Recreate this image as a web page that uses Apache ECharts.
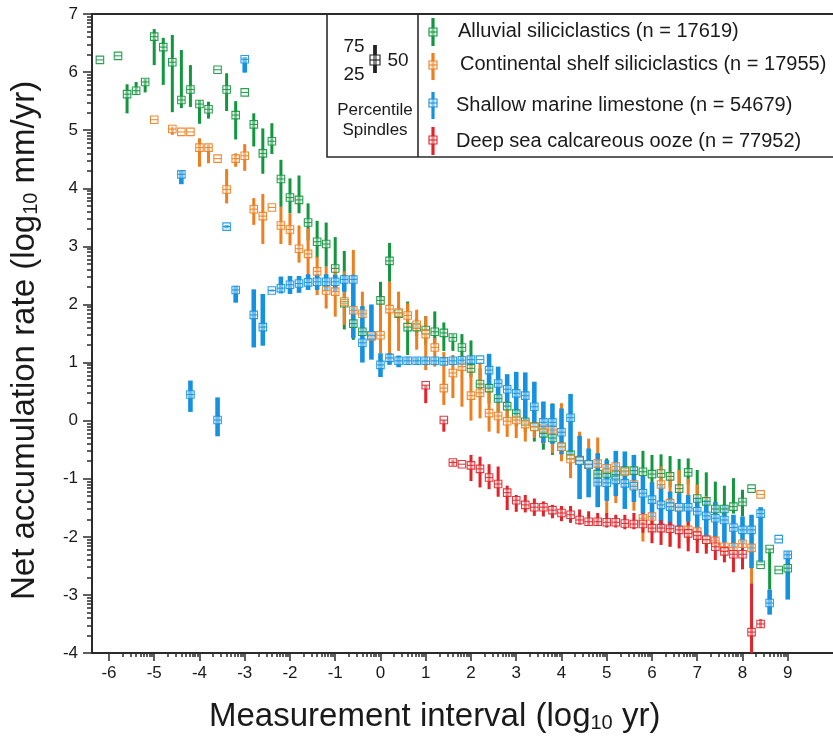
<!DOCTYPE html>
<html>
<head>
<meta charset="utf-8">
<script src="https://cdn.jsdelivr.net/npm/echarts@6/dist/echarts.min.js"></script>
<style>
html,body{margin:0;padding:0;background:#fff;}
#chart{width:833px;height:740px;}
</style>
</head>
<body>
<div id="chart"></div>
<script>
// ---- data: [log10 interval, median, 25th pct, 75th pct] (null = no spindle) ----
const alluvial = [
[-6.2,6.21,null,null],[-5.8,6.28,null,null],[-5.6,5.62,5.29,5.79],[-5.4,5.68,5.61,5.83],[-5.2,5.83,5.65,5.88],
[-5.0,6.61,6.12,6.74],[-4.8,6.43,5.78,6.59],[-4.6,6.17,5.31,6.64],[-4.4,5.52,5.38,6.38],[-4.2,5.70,5.40,6.12],
[-4.0,5.45,5.11,5.52],[-3.8,5.36,5.20,5.49],[-3.6,6.04,null,null],[-3.4,5.70,5.33,5.98],[-3.2,5.26,4.84,5.50],
[-3.0,5.65,null,null],[-2.8,5.10,4.72,5.29],[-2.6,4.60,4.25,5.03],[-2.4,4.81,4.59,5.12],[-2.2,4.16,3.68,4.49],
[-2.0,3.84,3.57,4.17],[-1.8,3.80,3.57,4.22],[-1.6,3.41,3.10,3.74],[-1.4,3.08,2.80,3.44],[-1.2,3.04,2.65,3.41],
[-1.0,2.62,2.40,3.16],[-0.8,2.02,1.57,2.92],[-0.6,1.67,1.39,1.80],[-0.4,1.53,1.30,1.70],[0.0,2.07,1.95,2.39],
[0.2,2.75,2.39,3.06],[0.4,1.84,1.70,2.00],[0.6,1.61,1.13,2.05],[0.8,1.61,1.45,1.75],[1.0,1.56,1.30,1.80],
[1.2,1.53,1.30,1.88],[1.4,1.51,1.20,1.69],[1.6,1.43,1.20,1.49],[1.8,1.26,1.05,1.49],[2.0,0.90,0.75,1.38],
[2.2,0.63,0.40,0.90],[2.4,0.56,0.30,0.80],[2.6,0.38,0.15,0.60],[2.8,0.25,0.00,0.45],[3.0,0.12,-0.10,0.35],
[3.2,-0.02,-0.20,0.20],[3.4,-0.10,-0.36,0.10],[3.6,-0.22,-0.50,0.00],[3.8,-0.30,-0.59,-0.10],[4.0,-0.45,-0.65,-0.25],
[4.2,-0.59,-0.80,-0.40],[4.4,-0.68,-0.95,-0.50],[4.6,-0.76,-0.95,-0.55],[4.8,-0.92,-1.10,-0.70],[5.0,-0.91,-1.10,-0.65],
[5.2,-0.93,-1.10,-0.70],[5.4,-0.86,-1.05,-0.60],[5.6,-0.86,-1.05,-0.62],[5.8,-0.88,-1.05,-0.52],[6.0,-0.92,-1.10,-0.59],
[6.2,-0.91,-1.10,-0.58],[6.4,-0.96,-1.15,-0.61],[6.6,-1.17,-1.30,-0.66],[6.8,-0.89,-1.10,-0.65],[7.0,-1.34,-1.45,-0.85],
[7.2,-1.39,-1.50,-0.89],[7.4,-1.52,-1.60,-1.05],[7.6,-1.52,-1.60,-1.12],[7.8,-1.48,-1.60,-0.99],[8.0,-1.40,-1.65,-1.19],
[8.2,-1.17,null,null],[8.4,-2.48,null,null],[8.6,-2.21,-2.91,-2.21],[8.8,-2.57,null,null],[9.0,-2.54,null,null]
];
const shelf = [
[-5.0,5.18,null,null],[-4.6,5.02,4.92,5.06],[-4.4,4.97,null,null],[-4.2,4.97,null,null],[-4.0,4.70,4.37,4.86],
[-3.8,4.70,4.43,4.75],[-3.6,4.51,null,null],[-3.4,3.98,3.74,4.33],[-3.2,4.51,4.37,4.60],[-3.0,4.56,4.30,4.76],
[-2.8,3.64,3.37,3.83],[-2.6,3.52,3.04,3.90],[-2.4,3.67,null,null],[-2.2,3.36,3.04,3.68],[-2.0,3.29,3.02,3.57],
[-1.8,2.96,2.72,3.36],[-1.6,2.87,2.34,3.31],[-1.4,2.57,2.16,2.82],[-1.2,2.24,1.93,2.65],[-1.0,2.22,1.79,2.61],
[-0.8,2.05,1.65,2.57],[-0.6,1.90,1.55,2.94],[-0.4,1.84,1.40,2.22],[-0.2,1.45,1.10,1.90],[0.0,1.47,1.16,2.02],
[0.2,1.92,1.10,2.39],[0.4,1.86,1.20,2.22],[0.6,1.81,1.62,2.02],[0.8,1.65,1.22,1.91],[1.0,1.49,0.87,1.80],
[1.2,1.26,0.93,1.42],[1.4,0.56,0.27,1.18],[1.6,0.82,0.39,1.13],[1.8,0.93,0.24,1.10],[2.0,0.43,0.00,0.95],
[2.2,0.48,0.04,1.00],[2.4,0.13,-0.19,0.54],[2.6,0.08,-0.22,0.30],[2.8,-0.01,-0.28,0.20],[3.0,0.01,-0.30,0.10],
[3.2,-0.06,-0.36,0.00],[3.4,-0.11,-0.30,0.05],[3.6,-0.13,-0.40,0.10],[3.8,-0.16,-0.56,0.30],[4.0,-0.45,-0.70,0.30],
[4.2,-0.66,-0.99,-0.59],[4.4,-0.69,-1.00,-0.19],[4.6,-0.76,-1.00,-0.31],[4.8,-0.74,-0.85,-0.29],[5.0,-0.82,-1.59,-0.70],
[5.2,-0.79,-1.42,-0.62],[5.4,-0.88,-1.10,-0.70],[5.6,-1.10,-1.55,-0.75],[5.8,-1.68,-2.08,-1.10],[6.0,-1.65,-1.90,-1.20],
[6.2,-1.10,-1.40,-0.79],[6.4,-1.42,-2.17,-0.88],[6.6,-1.49,-1.90,-0.85],[6.8,-1.88,-2.10,-1.00],[7.0,-1.91,-2.10,-1.10],
[7.2,-2.05,-2.20,-1.30],[7.4,-2.07,-2.20,-1.60],[7.6,-2.17,-2.30,-1.70],[7.8,-2.18,-2.30,-1.90],[8.0,-2.12,-2.30,-1.90],
[8.2,-2.19,-2.80,-1.70],[8.4,-1.27,null,null]
];
const limestone = [
[-4.4,4.24,4.07,4.30],[-4.2,0.45,0.15,0.69],[-3.6,0.01,-0.27,0.40],[-3.4,3.34,3.31,3.37],[-3.2,2.25,2.03,2.32],
[-3.0,6.22,5.99,6.26],[-2.8,1.82,1.26,2.26],[-2.6,1.61,1.29,2.18],[-2.4,2.24,2.22,2.26],[-2.2,2.28,2.19,2.48],
[-2.0,2.34,2.18,2.49],[-1.8,2.36,2.20,2.49],[-1.6,2.38,2.25,2.52],[-1.4,2.39,2.25,2.52],[-1.2,2.39,2.25,2.52],
[-1.0,2.39,2.22,2.51],[-0.8,2.43,2.22,2.51],[-0.6,2.43,1.42,2.51],[-0.4,1.34,1.00,1.97],[-0.2,1.47,1.05,2.00],
[0.0,0.96,0.75,1.16],[0.2,1.08,0.96,1.16],[0.4,1.03,0.92,1.12],[0.6,1.03,0.96,1.10],[0.8,1.03,0.96,1.09],
[1.0,1.03,0.96,1.09],[1.2,1.03,0.96,1.09],[1.4,1.02,0.96,1.09],[1.6,1.03,0.96,1.09],[1.8,1.04,0.96,1.09],
[2.0,1.05,0.98,1.10],[2.2,1.05,null,null],[2.4,0.87,0.56,1.15],[2.6,0.64,0.32,0.93],[2.8,0.54,0.21,0.80],
[3.0,0.47,0.10,0.84],[3.2,0.43,0.00,0.83],[3.4,0.24,-0.12,0.67],[3.6,-0.03,-0.39,0.33],[3.8,-0.03,-0.40,0.29],
[4.0,-0.20,-0.58,0.21],[4.2,0.05,-0.59,0.46],[4.4,-0.69,-1.35,-0.26],[4.6,-0.75,-1.32,-0.48],[4.8,-1.06,-1.49,-0.56],
[5.0,-1.07,-1.38,-0.68],[5.2,-1.02,-1.30,-0.52],[5.4,-1.08,-1.52,-0.53],[5.6,-1.13,-1.40,-0.59],[5.8,-1.25,-1.60,-0.95],
[6.0,-1.36,-1.70,-1.06],[6.2,-1.45,-1.85,-1.10],[6.4,-1.48,-1.85,-1.22],[6.6,-1.49,-1.82,-1.25],[6.8,-1.49,-1.74,-1.28],
[7.0,-1.56,-1.85,-1.31],[7.2,-1.64,-2.00,-1.36],[7.4,-1.68,-2.05,-1.40],[7.6,-1.71,-2.10,-1.45],[7.8,-1.84,-2.20,-1.62],
[8.0,-1.88,-2.11,-1.65],[8.2,-1.88,-2.54,-1.62],[8.4,-1.60,-2.45,-1.49],[8.6,-3.14,-3.34,-2.91],[8.8,-2.04,null,null],
[9.0,-2.31,-3.08,-2.25]
];
const ooze = [
[1.0,0.61,0.30,0.61],[1.4,0.01,-0.19,0.01],[1.6,-0.72,-0.78,-0.68],[1.8,-0.75,null,null],[2.0,-0.77,-1.04,-0.59],
[2.2,-0.83,-1.15,-0.62],[2.4,-0.98,-1.18,-0.75],[2.6,-1.09,-1.31,-0.79],[2.8,-1.24,-1.54,-1.12],[3.0,-1.37,-1.57,-1.28],
[3.2,-1.45,-1.58,-1.28],[3.4,-1.49,-1.64,-1.34],[3.6,-1.49,-1.65,-1.39],[3.8,-1.54,-1.68,-1.45],[4.0,-1.59,-1.73,-1.47],
[4.2,-1.62,-1.76,-1.47],[4.4,-1.71,-1.79,-1.53],[4.6,-1.74,-1.81,-1.56],[4.8,-1.74,-1.81,-1.59],[5.0,-1.75,-1.84,-1.59],
[5.2,-1.75,-1.84,-1.62],[5.4,-1.77,-1.87,-1.62],[5.6,-1.78,-1.87,-1.59],[5.8,-1.78,-1.93,-1.59],[6.0,-1.85,-2.11,-1.68],
[6.2,-1.85,-2.14,-1.71],[6.4,-1.86,-2.17,-1.74],[6.6,-1.88,-2.20,-1.82],[6.8,-1.94,-2.25,-1.74],[7.0,-1.98,-2.28,-1.85],
[7.2,-2.05,-2.29,-2.00],[7.4,-2.17,-2.40,-2.00],[7.6,-2.25,-2.44,-2.11],[7.8,-2.30,-2.61,-2.20],[8.0,-2.30,-2.56,-2.11],
[8.2,-3.64,-4.00,-2.80],[8.4,-3.50,-3.57,-3.42]
];
const seriesNames = ['Alluvial siliciclastics (n = 17619)','Continental shelf siliciclastics (n = 17955)',
  'Shallow marine limestone (n = 54679)','Deep sea calcareous ooze (n = 77952)'];
const seriesColors = ['#12973e','#ef7e1e','#1592df','#e2232a'];
const xTicks = [-6,-5,-4,-3,-2,-1,0,1,2,3,4,5,6,7,8,9];
const yTicks = [-4,-3,-2,-1,0,1,2,3,4,5,6,7];

// log-decade minor tick positions
function minorTicks(from, to, lo, hi){
  const out=[];
  for(let m=from;m<=to;m++) for(let k=2;k<=9;k++){const v=m+Math.log10(k); if(v>lo&&v<hi) out.push(v);}
  return out;
}
const X_MIN=-6.375, X_MAX=10, Y_MIN=-4, Y_MAX=7;
const xMinor = minorTicks(-6,8,X_MIN,X_MAX);
const yMinor = minorTicks(-4,6,Y_MIN,Y_MAX);

const FONT='"Liberation Sans", Arial, sans-serif';
const AX='#2b2b2b';

function prep(rows){return rows.map(r=>[r[0],r[1],r[2]==null?r[1]:r[2],r[3]==null?r[1]:r[3]]);}
const allData=[alluvial,shelf,limestone,ooze].map(prep);
const barWidths=[3,3,4.6,3];

function spindleSeries(i){
  return {type:'custom', name:seriesNames[i], xAxisIndex:0, yAxisIndex:0, data:allData[i], z:2,
    renderItem:function(params,api){
      const lo=api.value(2), hi=api.value(3);
      if(!(hi-lo>1e-6)) return null;
      const x=api.value(0);
      const a=api.coord([x,lo]), b=api.coord([x,hi]);
      return {type:'line', shape:{x1:a[0],y1:a[1],x2:b[0],y2:b[1]},
        style:{stroke:seriesColors[i], lineWidth:barWidths[i], lineCap:'butt'}};
    }};
}
function medianSeries(i){
  return {type:'custom', name:seriesNames[i]+' median', xAxisIndex:0, yAxisIndex:0, data:allData[i], z:3,
    renderItem:function(params,api){
      const p=api.coord([api.value(0),api.value(1)]);
      const s=7.5;
      return {type:'group', children:[
        {type:'rect', shape:{x:p[0]-s/2,y:p[1]-s/2,width:s,height:s},
          style:{fill:'rgba(255,255,255,0.45)', stroke:seriesColors[i], lineWidth:1.1, opacity:0.9}},
        {type:'line', shape:{x1:p[0]-s/2,y1:p[1],x2:p[0]+s/2,y2:p[1]},
          style:{stroke:seriesColors[i], lineWidth:1.1, opacity:0.9}}
      ]};
    }};
}

// legend graphics
const legendG=[];
legendG.push({type:'rect', shape:{x:327,y:14,width:540,height:143}, style:{fill:'none',stroke:AX,lineWidth:1.6}, z:10});
legendG.push({type:'line', shape:{x1:418,y1:14,x2:418,y2:157}, style:{stroke:AX,lineWidth:1.6}, z:10});
function icon(cx,cy,y1,y2,color,w,s){
  legendG.push({type:'line', shape:{x1:cx,y1:y1,x2:cx,y2:y2}, style:{stroke:color,lineWidth:w}, z:10});
  legendG.push({type:'rect', shape:{x:cx-s/2,y:cy-s/2,width:s,height:s}, style:{fill:'rgba(255,255,255,0.45)',stroke:color,lineWidth:1.1}, z:11});
  legendG.push({type:'line', shape:{x1:cx-s/2,y1:cy,x2:cx+s/2,y2:cy}, style:{stroke:color,lineWidth:1.1}, z:11});
}
icon(375,60,45,73,'#222',3.8,10);
function txt(t,x,y,size,align){
  legendG.push({type:'text', x:x, y:y, z:12, style:{text:t, x:0, y:0, font:size+'px '+FONT, fill:'#1a1a1a',
    textAlign:align, textVerticalAlign:'middle', align:align, verticalAlign:'middle'}});
}
txt('75',354,47,19,'center'); txt('25',354,75,19,'center'); txt('50',398,61,19,'center');
txt('Percentile',375,110,17,'center'); txt('Spindles',375,130,17,'center');
const legIconY=[[32,18,46],[65,53,80],[103,92,119],[140,127,155]];
const legTextX=[458,460,456,456];
const legTextY=[31,64,105,141];
for(let i=0;i<4;i++){
  icon(433,legIconY[i][0],legIconY[i][1],legIconY[i][2],seriesColors[i],3.2,8);
  txt(seriesNames[i],legTextX[i],legTextY[i],20,'left');
}
// axis titles
legendG.push({type:'text', x:209, y:716.6, z:12, style:{
  text:'{a|Measurement interval (log}{s|10}{a| yr)}', x:0,y:0, textAlign:'left', textVerticalAlign:'middle', align:'left', verticalAlign:'middle',
  rich:{a:{fontSize:33,fontFamily:FONT,fill:'#1a1a1a',lineHeight:33,verticalAlign:'middle'},
        s:{fontSize:20,fontFamily:FONT,fill:'#1a1a1a',lineHeight:8,verticalAlign:'bottom'}}}});
legendG.push({type:'text', x:25, y:600, rotation:Math.PI/2, z:12, style:{
  text:'{a|Net accumulation rate (log}{s|10}{a| mm/yr)}', x:0,y:0, textAlign:'left', textVerticalAlign:'middle', align:'left', verticalAlign:'middle',
  rich:{a:{fontSize:33,fontFamily:FONT,fill:'#1a1a1a',lineHeight:33,verticalAlign:'middle'},
        s:{fontSize:20,fontFamily:FONT,fill:'#1a1a1a',lineHeight:8,verticalAlign:'bottom'}}}});

const tickStyle={color:AX,width:1.5};
const option={
  animation:false,
  backgroundColor:'#fff',
  grid:{left:92,right:-2,top:14,bottom:87,containLabel:false},
  xAxis:[
    {type:'value',min:X_MIN,max:X_MAX,position:'bottom',
      axisLine:{show:true,onZero:false,lineStyle:{color:AX,width:2}},
      axisTick:{show:true,customValues:xTicks,length:8,lineStyle:tickStyle},
      axisLabel:{show:true,customValues:xTicks,fontSize:17,fontFamily:FONT,color:'#1a1a1a',margin:12},
      splitLine:{show:false}},
    {type:'value',min:X_MIN,max:X_MAX,position:'bottom',offset:0,
      axisLine:{show:false,onZero:false},
      axisTick:{show:true,customValues:xMinor,length:4,lineStyle:tickStyle},
      axisLabel:{show:false},splitLine:{show:false}},
    {type:'value',min:X_MIN,max:X_MAX,position:'top',
      axisLine:{show:true,onZero:false,lineStyle:{color:AX,width:2}},
      axisTick:{show:false},axisLabel:{show:false},splitLine:{show:false}}
  ],
  yAxis:[
    {type:'value',min:Y_MIN,max:Y_MAX,position:'left',
      axisLine:{show:true,onZero:false,lineStyle:{color:AX,width:2}},
      axisTick:{show:true,customValues:yTicks,length:9,lineStyle:tickStyle},
      axisLabel:{show:true,customValues:yTicks,fontSize:17,fontFamily:FONT,color:'#1a1a1a',margin:14},
      splitLine:{show:false}},
    {type:'value',min:Y_MIN,max:Y_MAX,position:'left',offset:0,
      axisLine:{show:false,onZero:false},
      axisTick:{show:true,customValues:yMinor,length:5,lineStyle:tickStyle},
      axisLabel:{show:false},splitLine:{show:false}}
  ],
  series:[spindleSeries(0),spindleSeries(1),spindleSeries(2),spindleSeries(3),
          medianSeries(0),medianSeries(1),medianSeries(2),medianSeries(3)],
  graphic:{elements:legendG}
};
const chart=echarts.init(document.getElementById('chart'),null,{renderer:'canvas'});
chart.setOption(option);
</script>
</body>
</html>
